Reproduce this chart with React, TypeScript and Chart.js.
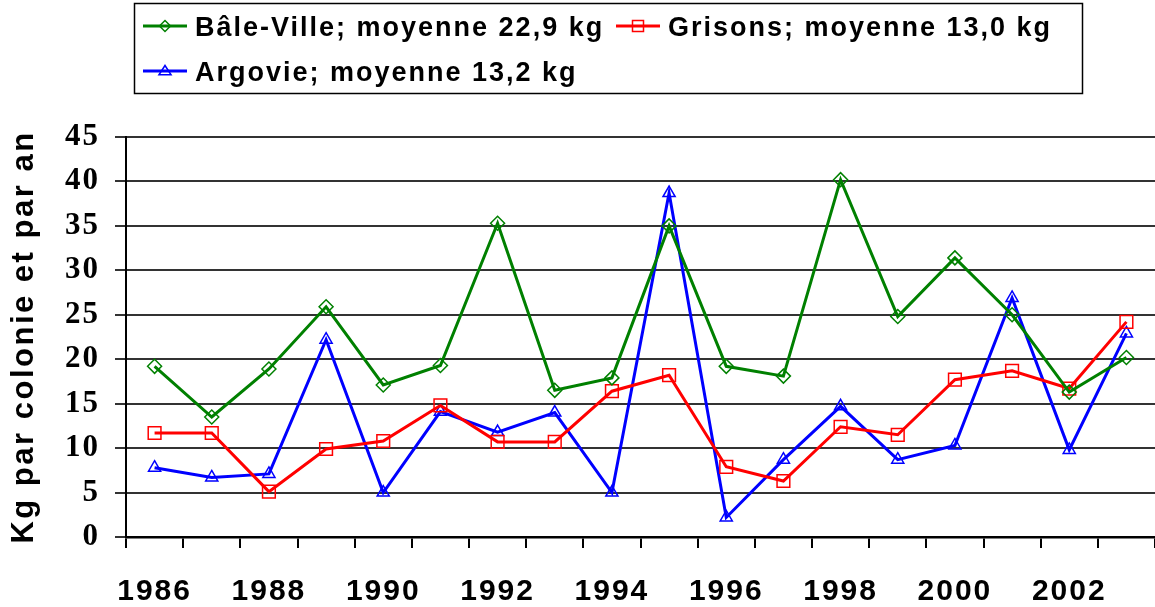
import React, { useEffect, useRef } from 'react';
import { Chart, registerables } from 'chart.js';

Chart.register(...registerables);

const years = ['1986', '1987', '1988', '1989', '1990', '1991', '1992', '1993', '1994', '1995', '1996', '1997', '1998', '1999', '2000', '2001', '2002', '2003'];
const baleVille = [19.2, 13.5, 18.9, 25.9, 17.1, 19.3, 35.3, 16.5, 17.9, 35.0, 19.2, 18.1, 40.2, 24.8, 31.4, 25.0, 16.3, 20.2];
const grisons = [11.7, 11.7, 5.1, 9.9, 10.8, 14.8, 10.7, 10.7, 16.4, 18.2, 7.9, 6.3, 12.4, 11.5, 17.7, 18.7, 16.7, 24.2];
const argovie = [7.8, 6.7, 7.1, 22.2, 5.0, 14.1, 11.8, 14.0, 5.0, 38.7, 2.2, 8.7, 14.7, 8.7, 10.3, 26.9, 9.8, 22.9];
const seriesNames = ['Bâle-Ville; moyenne 22,9 kg', 'Grisons; moyenne 13,0 kg', 'Argovie; moyenne 13,2 kg'];
const seriesColors = ['#008000', '#FF0000', '#0000FF'];
const seriesMarkers = ['rectRot', 'rect', 'triangle'];
const yMin = 0;
const yMax = 45;
const yStep = 5;
const yTitle = 'Kg par colonie et par an';

function drawMarker(ctx: CanvasRenderingContext2D, kind: string, x: number, y: number, s: number) {
  ctx.beginPath();
  if (kind === 'rectRot') {
    ctx.moveTo(x, y - s);
    ctx.lineTo(x + s, y);
    ctx.lineTo(x, y + s);
    ctx.lineTo(x - s, y);
    ctx.closePath();
  } else if (kind === 'rect') {
    ctx.rect(x - s, y - s, 2 * s, 2 * s);
  } else {
    ctx.moveTo(x, y - s);
    ctx.lineTo(x + s * 1.1, y + s * 0.7);
    ctx.lineTo(x - s * 1.1, y + s * 0.7);
    ctx.closePath();
  }
  ctx.stroke();
}

const boxLegend = {
  id: 'boxLegend',
  beforeDraw(chart: any) {
    (chart.ctx as any).letterSpacing = '2.5px';
  },
  beforeDatasetsDraw(chart: any) {
    (chart.ctx as any).letterSpacing = '0px';
  },
  afterDatasetsDraw(chart: any) {
    (chart.ctx as any).letterSpacing = '2px';
  },
  afterDraw(chart: any) {
    const ctx: CanvasRenderingContext2D = chart.ctx;
    ctx.save();
    (ctx as any).letterSpacing = '0px';
    ctx.strokeStyle = '#000';
    ctx.lineWidth = 1.5;
    ctx.strokeRect(134.5, 3.5, 948, 90);
    const items = [
      { x: 143, y: 26 },
      { x: 616, y: 26 },
      { x: 143, y: 71 },
    ];
    items.forEach((it, i) => {
      ctx.strokeStyle = seriesColors[i];
      ctx.lineWidth = 3;
      ctx.beginPath();
      ctx.moveTo(it.x, it.y);
      ctx.lineTo(it.x + 44, it.y);
      ctx.stroke();
      ctx.lineWidth = 1.5;
      drawMarker(ctx, seriesMarkers[i], it.x + 22, it.y, 5.5);
      (ctx as any).letterSpacing = '2px';
      ctx.fillStyle = '#000';
      ctx.font = 'bold 27px "Liberation Sans", Arial, sans-serif';
      ctx.textAlign = 'left';
      ctx.textBaseline = 'alphabetic';
      ctx.fillText(seriesNames[i], it.x + 52, it.y + 10);
      (ctx as any).letterSpacing = '0px';
    });
    ctx.restore();
    (ctx as any).letterSpacing = '0px';
  },
};

export default function App() {
  const ref = useRef<HTMLCanvasElement | null>(null);
  useEffect(() => {
    if (!ref.current) return;
    const data = [baleVille, grisons, argovie];
    const chart = new Chart(ref.current, {
      type: 'line',
      data: {
        labels: years,
        datasets: data.map((d, i) => ({
          label: seriesNames[i],
          data: d,
          borderColor: seriesColors[i],
          backgroundColor: 'rgba(0,0,0,0)',
          borderWidth: 3,
          tension: 0,
          pointStyle: seriesMarkers[i] as any,
          pointRadius: i === 1 ? 9 : 7,
          pointBorderWidth: 1.5,
          pointBorderColor: seriesColors[i],
          pointBackgroundColor: 'rgba(0,0,0,0)',
          clip: false as any,
        })),
      },
      options: {
        animation: false,
        responsive: false,
        maintainAspectRatio: false,
        layout: { autoPadding: false, padding: { top: 137, right: 0, bottom: 0, left: 0 } },
        plugins: {
          legend: { display: false },
          tooltip: { enabled: false },
        },
        scales: {
          x: {
            type: 'category',
            offset: true,
            afterFit: (s: any) => {
              s.height = 70;
              s.paddingRight = 0;
              s.paddingLeft = 0;
            },
            grid: {
              drawOnChartArea: false,
              drawTicks: true,
              offset: true,
              tickLength: 11,
              color: '#000',
              lineWidth: 2,
            },
            border: { display: true, color: '#000', width: 2.5 },
            ticks: {
              z: 1,
              autoSkip: false,
              maxRotation: 0,
              minRotation: 0,
              padding: 26,
              color: '#000',
              font: { family: '"Liberation Sans", Arial, sans-serif', size: 30, weight: 'bold' },
              callback: (_v: any, i: number) => (i % 2 === 0 ? years[i] : ''),
            },
          },
          y: {
            min: yMin,
            max: yMax,
            afterFit: (s: any) => { s.width = 126; },
            grid: {
              drawOnChartArea: true,
              drawTicks: true,
              tickLength: 11,
              color: '#333',
              lineWidth: 2,
            },
            border: { display: true, color: '#000', width: 2 },
            ticks: {
              z: 1,
              stepSize: yStep,
              padding: 15,
              color: '#000',
              font: { family: '"Liberation Serif", "Times New Roman", serif', size: 31, weight: 'bold' },
            },
            title: {
              display: true,
              text: yTitle,
              color: '#000',
              padding: { top: 6, bottom: 0 },
              font: { family: '"Liberation Sans", Arial, sans-serif', size: 31, weight: 'bold' },
            },
          },
        },
      },
      plugins: [boxLegend],
    });
    return () => chart.destroy();
  }, []);
  return (
    <div style={{ position: 'absolute', left: 0, top: 0, width: 1155, height: 607, background: '#fff' }}>
      <canvas ref={ref} width={1155} height={607} style={{ display: 'block' }} />
    </div>
  );
}
